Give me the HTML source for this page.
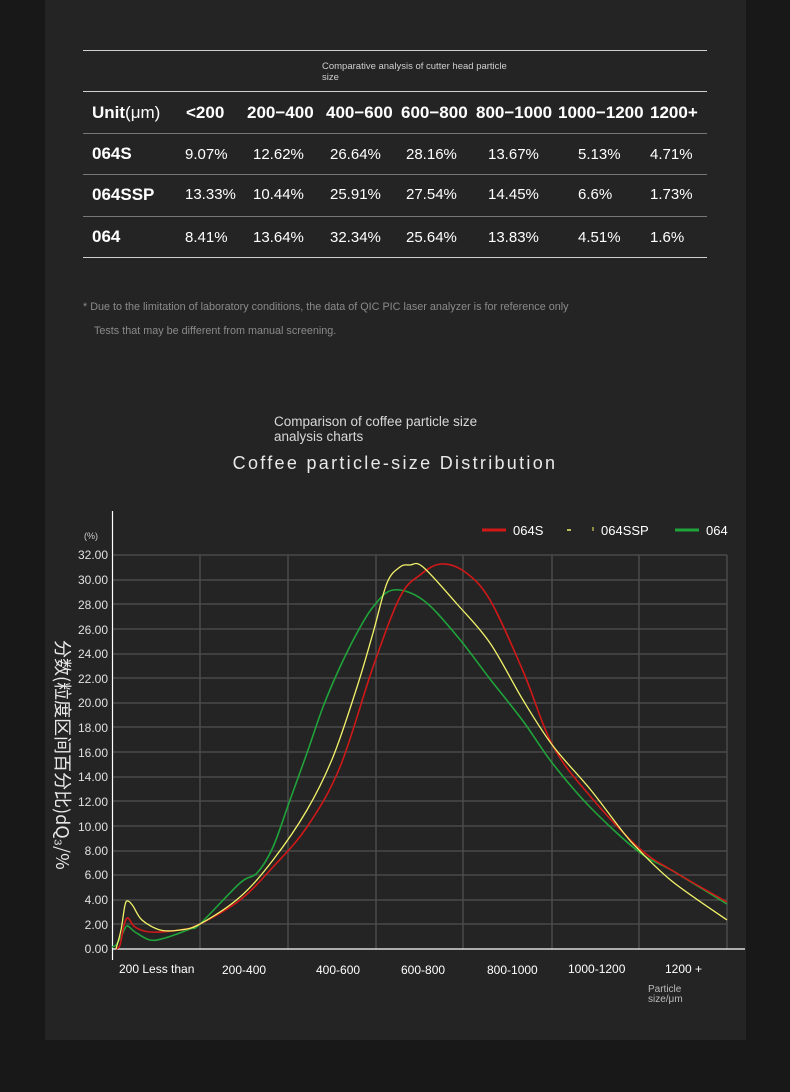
<!DOCTYPE html>
<html><head><meta charset="utf-8"><style>
html,body{margin:0;padding:0;background:#181818;}
body{width:790px;height:1092px;position:relative;overflow:hidden;font-family:"Liberation Sans","Noto Sans CJK SC",sans-serif;}
#panel{position:absolute;left:45px;top:0;width:701px;height:1040px;background:#242424;}
</style></head><body>
<div id="panel"></div>
<svg id="s" width="790" height="1092" style="position:absolute;left:0;top:0" font-family="Liberation Sans, Noto Sans CJK SC, sans-serif">
<g stroke="#cfcfcf" stroke-width="1">
<line x1="83" y1="50.5" x2="707" y2="50.5"/><line x1="83" y1="91.5" x2="707" y2="91.5"/>
<line x1="83" y1="133.5" x2="707" y2="133.5" stroke="#777"/><line x1="83" y1="174.5" x2="707" y2="174.5" stroke="#777"/>
<line x1="83" y1="216.5" x2="707" y2="216.5" stroke="#777"/><line x1="83" y1="257.5" x2="707" y2="257.5"/>
</g>
<g fill="#cfcfcf" font-size="9.5"><text x="322" y="69">Comparative analysis of cutter head particle</text><text x="322" y="80">size</text></g>
<g fill="#fff" font-size="17" font-weight="bold"><text x="92" y="118">Unit<tspan font-weight="normal">(μm)</tspan></text>
<text x="186" y="118">&lt;200</text><text x="247" y="118">200−400</text><text x="326" y="118">400−600</text><text x="401" y="118">600−800</text><text x="476" y="118">800−1000</text><text x="558" y="118">1000−1200</text><text x="650" y="118">1200+</text>
<text x="92" y="159">064S</text><text x="92" y="200">064SSP</text><text x="92" y="242">064</text></g>
<g fill="#fff" font-size="15">
<text x="185" y="159">9.07%</text><text x="253" y="159">12.62%</text><text x="330" y="159">26.64%</text><text x="406" y="159">28.16%</text><text x="488" y="159">13.67%</text><text x="578" y="159">5.13%</text><text x="650" y="159">4.71%</text>
<text x="185" y="199">13.33%</text><text x="253" y="199">10.44%</text><text x="330" y="199">25.91%</text><text x="406" y="199">27.54%</text><text x="488" y="199">14.45%</text><text x="578" y="199">6.6%</text><text x="650" y="199">1.73%</text>
<text x="185" y="242">8.41%</text><text x="253" y="242">13.64%</text><text x="330" y="242">32.34%</text><text x="406" y="242">25.64%</text><text x="488" y="242">13.83%</text><text x="578" y="242">4.51%</text><text x="650" y="242">1.6%</text></g>
<g fill="#8a8a8a" font-size="10.8"><text x="83" y="310">* Due to the limitation of laboratory conditions, the data of QIC PIC laser analyzer is for reference only</text>
<text x="94" y="334">Tests that may be different from manual screening.</text></g>
<g fill="#d8d8d8" font-size="13.5"><text x="274" y="426">Comparison of coffee particle size</text><text x="274" y="441">analysis charts</text></g>
<text x="395" y="469" fill="#e8e8e8" font-size="18" text-anchor="middle" letter-spacing="2.3">Coffee particle-size Distribution</text>
<g stroke="#4a4a4a" stroke-width="1.5">
<line x1="112" y1="555" x2="727" y2="555"/><line x1="112" y1="580" x2="727" y2="580"/><line x1="112" y1="604" x2="727" y2="604"/><line x1="112" y1="629" x2="727" y2="629"/><line x1="112" y1="654" x2="727" y2="654"/><line x1="112" y1="678" x2="727" y2="678"/><line x1="112" y1="703" x2="727" y2="703"/><line x1="112" y1="727" x2="727" y2="727"/><line x1="112" y1="752" x2="727" y2="752"/><line x1="112" y1="777" x2="727" y2="777"/><line x1="112" y1="801" x2="727" y2="801"/><line x1="112" y1="826" x2="727" y2="826"/><line x1="112" y1="851" x2="727" y2="851"/><line x1="112" y1="875" x2="727" y2="875"/><line x1="112" y1="900" x2="727" y2="900"/><line x1="112" y1="924" x2="727" y2="924"/>
<line x1="200" y1="555" x2="200" y2="949"/><line x1="288" y1="555" x2="288" y2="949"/><line x1="376" y1="555" x2="376" y2="949"/><line x1="463" y1="555" x2="463" y2="949"/><line x1="552" y1="555" x2="552" y2="949"/><line x1="639" y1="555" x2="639" y2="949"/><line x1="727" y1="555" x2="727" y2="949"/>
</g>
<line x1="112.5" y1="511" x2="112.5" y2="960" stroke="#fff" stroke-width="1.2"/>
<line x1="112" y1="949" x2="745" y2="949" stroke="#fff" stroke-width="1.2"/>
<g fill="#e0e0e0" font-size="12" text-anchor="end">
<text x="108" y="559">32.00</text><text x="108" y="584">30.00</text><text x="108" y="609">28.00</text><text x="108" y="634">26.00</text><text x="108" y="658">24.00</text><text x="108" y="683">22.00</text><text x="108" y="707">20.00</text><text x="108" y="732">18.00</text><text x="108" y="757">16.00</text><text x="108" y="781">14.00</text><text x="108" y="806">12.00</text><text x="108" y="831">10.00</text><text x="108" y="855">8.00</text><text x="108" y="879">6.00</text><text x="108" y="904">4.00</text><text x="108" y="929">2.00</text><text x="108" y="953">0.00</text></g>
<text x="84" y="539" fill="#cfcfcf" font-size="9">(%)</text>
<text transform="translate(56,640) rotate(90)" fill="#e8e8e8" font-size="18" font-family="Noto Sans CJK SC, sans-serif">分数(粒度区间百分比)dQ₃/%</text>
<g fill="#fff" font-size="12">
<text x="119" y="973">200 Less than</text><text x="222" y="974">200-400</text><text x="316" y="974">400-600</text><text x="401" y="974">600-800</text><text x="487" y="974">800-1000</text><text x="568" y="973">1000-1200</text><text x="665" y="973">1200 +</text></g>
<g fill="#bbb" font-size="10"><text x="648" y="992">Particle</text><text x="648" y="1002">size/μm</text></g>
<line x1="482" y1="530" x2="506" y2="530" stroke="#d01818" stroke-width="3"/>
<text x="513" y="535" fill="#fff" font-size="13">064S</text>
<line x1="567" y1="530" x2="571" y2="530" stroke="#f2f26a" stroke-width="1.5"/><line x1="593" y1="527" x2="593" y2="531" stroke="#f2f26a" stroke-width="1"/>
<text x="601" y="535" fill="#fff" font-size="13">064SSP</text>
<line x1="675" y1="530" x2="699" y2="530" stroke="#1fa33a" stroke-width="3"/>
<text x="706" y="535" fill="#fff" font-size="13">064</text>
<g fill="none" stroke-width="1.6" stroke-linejoin="round">
<polyline stroke="#1fa33a" points="112,947 116,945 122,935 127,926 135,932 150,940 165,938 190,929 200,924 240,883 257,873 273,847 290,800 307,753 323,707 340,667 357,633 373,607 393,590 423,600 457,636 490,679 523,721 553,764 590,807 639,852 673,871 727,904"/>
<polyline stroke="#d01818" points="116,949 120,945 124,925 128,918 135,927 150,932 180,930 200,924 240,900 273,867 307,827 340,767 373,667 400,597 420,575 441,564 465,572 490,600 523,671 553,746 590,796 639,848 673,871 727,902"/>
<polyline stroke="#f2f26a" stroke-width="1.3" points="116,949 121,930 125,905 128,901 133,906 142,920 160,930 180,930 200,924 240,897 273,860 307,810 333,757 357,687 373,633 387,583 400,567 410,565 423,567 457,604 490,643 523,700 553,746 590,789 623,832 639,850 673,882 727,920"/>
</g>
</svg>
<script>
(function(){
var ns="http://www.w3.org/2000/svg";
document.querySelectorAll("#s polyline").forEach(function(pl){
 var p=pl.getAttribute("points").trim().split(/\s+/).map(function(s){var a=s.split(",");return [+a[0],+a[1]];});
 var d="M"+p[0][0]+","+p[0][1];
 for(var i=0;i<p.length-1;i++){
  var p0=p[i-1]||p[i],p1=p[i],p2=p[i+1],p3=p[i+2]||p2;
  var c1=[p1[0]+(p2[0]-p0[0])/6,p1[1]+(p2[1]-p0[1])/6];
  var c2=[p2[0]-(p3[0]-p1[0])/6,p2[1]-(p3[1]-p1[1])/6];
  d+=" C"+c1[0].toFixed(1)+","+c1[1].toFixed(1)+" "+c2[0].toFixed(1)+","+c2[1].toFixed(1)+" "+p2[0]+","+p2[1];
 }
 var path=document.createElementNS(ns,"path");
 path.setAttribute("d",d);
 path.setAttribute("stroke",pl.getAttribute("stroke"));
 path.setAttribute("stroke-width",pl.getAttribute("stroke-width")||"1.6");
 path.setAttribute("fill","none");
 pl.parentNode.replaceChild(path,pl);
});
})();
</script>
</body></html>
